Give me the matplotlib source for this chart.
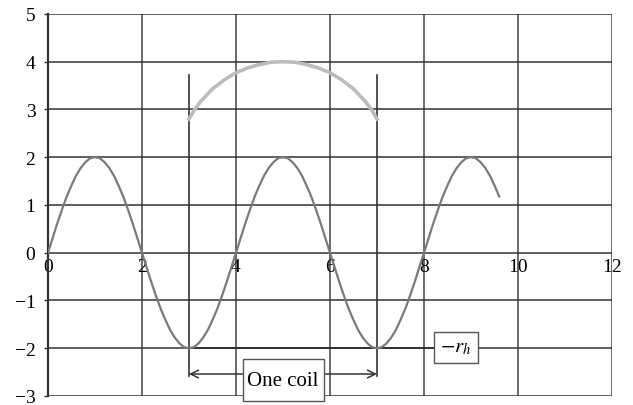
import numpy as np
import matplotlib.pyplot as plt
from matplotlib.patches import Rectangle

plt.rcParams['font.family'] = ['Liberation Serif', 'DejaVu Serif']
plt.rcParams['mathtext.fontset'] = 'stix'

# sine track, sampled every 0.1 from x = 0 to 9.6
sine_y = [
    0.00, 0.31, 0.62, 0.91, 1.18, 1.41, 1.62, 1.78, 1.90, 1.98, 2.00,
    1.98, 1.90, 1.78, 1.62, 1.41, 1.18, 0.91, 0.62, 0.31, 0.00,
    -0.31, -0.62, -0.91, -1.18, -1.41, -1.62, -1.78, -1.90, -1.98, -2.00,
    -1.98, -1.90, -1.78, -1.62, -1.41, -1.18, -0.91, -0.62, -0.31, 0.00,
    0.31, 0.62, 0.91, 1.18, 1.41, 1.62, 1.78, 1.90, 1.98, 2.00,
    1.98, 1.90, 1.78, 1.62, 1.41, 1.18, 0.91, 0.62, 0.31, 0.00,
    -0.31, -0.62, -0.91, -1.18, -1.41, -1.62, -1.78, -1.90, -1.98, -2.00,
    -1.98, -1.90, -1.78, -1.62, -1.41, -1.18, -0.91, -0.62, -0.31, 0.00,
    0.31, 0.62, 0.91, 1.18, 1.41, 1.62, 1.78, 1.90, 1.98, 2.00,
    1.98, 1.90, 1.78, 1.62, 1.41, 1.18,
]
sine_x = np.round(np.arange(len(sine_y)) * 0.1, 1)

# upper arc over one coil
arc_x = [3, 3.1, 3.25, 3.5, 3.75, 4, 4.25, 4.5, 4.75, 5,
         5.25, 5.5, 5.75, 6, 6.25, 6.5, 6.75, 6.9, 7]
arc_y = [2.8, 2.97, 3.17, 3.43, 3.62, 3.77, 3.87, 3.94, 3.99, 4.0,
         3.99, 3.94, 3.87, 3.77, 3.62, 3.43, 3.17, 2.97, 2.8]

coil_start, coil_end = 3, 7
marker_top, marker_bottom = 3.73, -2.58
rh_level, rh_end = -2, 8.2

xticks = [0, 2, 4, 6, 8, 10, 12]
yticks = [-3, -2, -1, 0, 1, 2, 3, 4, 5]

fig = plt.figure(figsize=(6.33, 4.06), dpi=100)
ax = fig.add_axes([0.0758, 0.0222, 0.891, 0.941])
ax.set_xlim(0, 12)
ax.set_ylim(-3, 5)

for xv in xticks[1:]:
    ax.axvline(xv, color='#6a6a6a', lw=1.4, zorder=1)
for yv in yticks:
    ax.axhline(yv, color='#333333', lw=1.1, zorder=1)

ax.plot(sine_x, sine_y, color='#7a7a7a', lw=1.6, zorder=3)
ax.plot(arc_x, arc_y, color='#bcbcbc', lw=2.6, zorder=3)

for xv in (coil_start, coil_end):
    ax.plot([xv, xv], [marker_bottom, marker_top], color='#333333', lw=1.2, zorder=2)
ax.plot([coil_start, rh_end], [rh_level, rh_level], color='#333333', lw=1.4, zorder=2)

ax.annotate('', xy=(coil_start, -2.54), xytext=(coil_end, -2.54),
            arrowprops=dict(arrowstyle='<->', color='#333333', lw=1.1,
                            mutation_scale=14, shrinkA=0, shrinkB=0))
ax.add_patch(Rectangle((4.14, -3.11), 1.73, 0.88, fc='white', ec='#555555',
                       lw=1, zorder=5, clip_on=False))
ax.text(5.0, -2.68, 'One coil', ha='center', va='center', fontsize=15, zorder=6)
ax.text(8.68, -1.98, r'$-r_h$', ha='center', va='center', fontsize=15, zorder=5,
        bbox=dict(boxstyle='square,pad=0.3', fc='white', ec='#555555', lw=1))

ax.spines['top'].set_visible(False)
ax.spines['right'].set_visible(False)
ax.spines['bottom'].set_position(('data', 0))
ax.spines['bottom'].set_visible(False)
ax.spines['left'].set_color('#333333')
ax.spines['left'].set_linewidth(1.6)

ax.set_xticks(xticks)
ax.set_yticks(yticks)
ax.set_yticklabels(['\u2212' + str(-v) if v < 0 else str(v) for v in yticks])
ax.tick_params(axis='x', length=0, pad=4, labelsize=14)
ax.tick_params(axis='y', length=3, width=1, color='#333333', pad=6, labelsize=14)

fig.savefig('out.png', dpi=100)
